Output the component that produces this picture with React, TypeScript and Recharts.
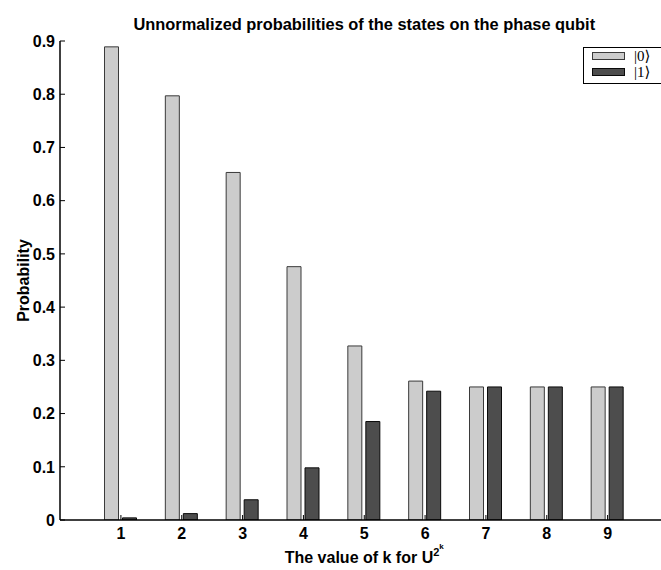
import React from 'react';
import { BarChart, Bar, XAxis, YAxis, Legend } from 'recharts';

// ---- data ----
const kValues = ['1', '2', '3', '4', '5', '6', '7', '8', '9'];
const prob0 = [0.889, 0.797, 0.653, 0.476, 0.327, 0.261, 0.25, 0.25, 0.25];
const prob1 = [0.004, 0.012, 0.038, 0.098, 0.185, 0.242, 0.25, 0.25, 0.25];
const yTicks = [0, 0.1, 0.2, 0.3, 0.4, 0.5, 0.6, 0.7, 0.8, 0.9];
const yTickLabels = ['0', '0.1', '0.2', '0.3', '0.4', '0.5', '0.6', '0.7', '0.8', '0.9'];
const seriesNames = ['|0\u27E9', '|1\u27E9'];
const seriesColors = ['#cccccc', '#4d4d4d'];
const seriesStrokes = ['#3a3a3a', '#0a0a0a'];

const data = kValues.map((k, i) => ({ k, p0: prob0[i], p1: prob1[i] }));

// ---- layout ----
const CHART_W = 700;
const CHART_H = 570;
const Y_AXIS_W = 60;
const MARGIN = { top: 41, right: 31.5, bottom: 0, left: 0 };
const X_AXIS_H = 50;
const PLOT_LEFT = MARGIN.left + Y_AXIS_W;
const PLOT_RIGHT = CHART_W - MARGIN.right;
const PLOT_TOP = MARGIN.top;
const PLOT_BOTTOM = CHART_H - MARGIN.bottom - X_AXIS_H;
const PLOT_CX = (PLOT_LEFT + PLOT_RIGHT) / 2;
const PLOT_CY = (PLOT_TOP + PLOT_BOTTOM) / 2;

const FONT = '"Liberation Sans", Arial, Helvetica, sans-serif';
const SERIF = '"Liberation Serif", "DejaVu Serif", serif';
const FS = 16;
const TICK_LEN = 5;
const BOTTOM_MARGIN = 19;
const LEFT_MARGIN = 5;

const BottomTick = (props: any) => {
  const { x, y, payload } = props;
  const axisY = y - BOTTOM_MARGIN;
  return (
    <g>
      <line x1={x} x2={x} y1={axisY} y2={axisY - TICK_LEN} stroke="#000" strokeWidth={1} />
      <text x={x} y={y} textAnchor="middle" fontFamily={FONT} fontWeight="bold" fontSize={FS} fill="#000">
        {payload.value}
      </text>
    </g>
  );
};

const TopTick = (props: any) => {
  const { x, y } = props;
  return <line x1={x} x2={x} y1={y} y2={y + TICK_LEN} stroke="#000" strokeWidth={1} />;
};

const LeftTick = (props: any) => {
  const { x, y, payload } = props;
  const axisX = x + LEFT_MARGIN;
  const label = yTickLabels[yTicks.indexOf(payload.value)] ?? String(payload.value);
  return (
    <g>
      <line x1={axisX} x2={axisX + TICK_LEN} y1={y} y2={y} stroke="#000" strokeWidth={1} />
      <text x={x} y={y} dy="0.36em" textAnchor="end" fontFamily={FONT} fontWeight="bold" fontSize={FS} fill="#000">
        {label}
      </text>
    </g>
  );
};

const LegendBox = () => (
  <div
    style={{
      position: 'relative',
      width: 85,
      height: 37,
      border: '1px solid #000',
      background: '#fff',
      boxSizing: 'border-box',
    }}
  >
    {seriesNames.map((name, i) => (
      <React.Fragment key={name}>
        <div
          style={{
            position: 'absolute',
            left: 8,
            top: 4 + 16 * i,
            width: 33,
            height: 8,
            boxSizing: 'border-box',
            background: seriesColors[i],
            border: `1px solid ${seriesStrokes[i]}`,
          }}
        />
        <div
          style={{
            position: 'absolute',
            left: 50,
            top: 0 + 16 * i,
            fontFamily: SERIF,
            fontSize: 15,
            lineHeight: '16px',
            color: '#000',
            whiteSpace: 'nowrap',
          }}
        >
          {name}
        </div>
      </React.Fragment>
    ))}
  </div>
);

export default function App() {
  return (
    <div
      style={{
        position: 'fixed',
        left: 0,
        top: 0,
        width: 661,
        height: 570,
        overflow: 'hidden',
        background: '#fff',
      }}
    >
      <BarChart width={CHART_W} height={CHART_H} data={data} margin={MARGIN} barGap={4}>
        <XAxis
          dataKey="k"
          xAxisId="bottom"
          orientation="bottom"
          height={X_AXIS_H}
          padding={{ left: 30.5, right: 30.5 }}
          axisLine={{ stroke: '#000', strokeWidth: 1.5 }}
          tickLine={false}
          tickSize={0}
          tickMargin={BOTTOM_MARGIN}
          tick={<BottomTick />}
          interval={0}
        />
        <XAxis
          dataKey="k"
          xAxisId="top"
          orientation="top"
          height={0}
          padding={{ left: 30.5, right: 30.5 }}
          axisLine={{ stroke: '#000', strokeWidth: 1.5 }}
          tickLine={false}
          tickSize={0}
          tickMargin={0}
          tick={<TopTick />}
          interval={0}
        />
        <YAxis
          width={Y_AXIS_W}
          domain={[0, 0.9]}
          ticks={yTicks}
          type="number"
          allowDataOverflow
          axisLine={{ stroke: '#000', strokeWidth: 1.5 }}
          tickLine={false}
          tickSize={0}
          tickMargin={LEFT_MARGIN}
          tick={<LeftTick />}
          interval={0}
        />
        <Legend
          layout="horizontal"
          verticalAlign="middle"
          align="center"
          wrapperStyle={{ position: 'absolute', left: 583, top: 47, width: 'auto', height: 'auto' }}
          content={() => <LegendBox />}
        />
        <Bar
          dataKey="p0"
          name={seriesNames[0]}
          xAxisId="bottom"
          fill={seriesColors[0]}
          stroke={seriesStrokes[0]}
          strokeWidth={1}
          barSize={14}
          isAnimationActive={false}
        />
        <Bar
          dataKey="p1"
          name={seriesNames[1]}
          xAxisId="bottom"
          fill={seriesColors[1]}
          stroke={seriesStrokes[1]}
          strokeWidth={1}
          barSize={14}
          isAnimationActive={false}
        />
      </BarChart>
      <svg
        width={CHART_W}
        height={CHART_H}
        style={{ position: 'absolute', left: 0, top: 0, pointerEvents: 'none' }}
      >
        <text x={PLOT_CX} y={30} textAnchor="middle" fontFamily={FONT} fontWeight="bold" fontSize={16.4} fill="#000">
          Unnormalized probabilities of the states on the phase qubit
        </text>
        <text x={PLOT_CX} y={563} textAnchor="middle" fontFamily={FONT} fontWeight="bold" fontSize={FS} fill="#000">
          <tspan>The value of k for U</tspan>
          <tspan fontSize={11} dy={-7}>2</tspan>
          <tspan fontSize={8} dy={-7}>k</tspan>
        </text>
        <text
          transform="rotate(-90)"
          x={-PLOT_CY}
          y={29}
          textAnchor="middle"
          fontFamily={FONT}
          fontWeight="bold"
          fontSize={FS}
          fill="#000"
        >
          Probability
        </text>
      </svg>
    </div>
  );
}
